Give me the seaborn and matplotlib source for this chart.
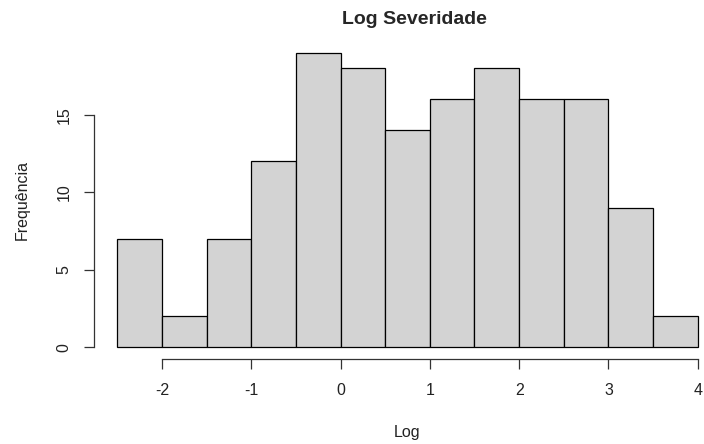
import matplotlib
matplotlib.use('Agg')
import matplotlib.pyplot as plt
import seaborn as sns

# histogram of log severity (bin edges and counts)
bin_edges = [-2.5, -2.0, -1.5, -1.0, -0.5, 0.0, 0.5, 1.0, 1.5, 2.0, 2.5, 3.0, 3.5, 4.0]
counts = [7, 2, 7, 12, 19, 18, 14, 16, 18, 16, 16, 9, 2]
x_ticks = [-2, -1, 0, 1, 2, 3, 4]
y_ticks = [0, 5, 10, 15]

centers = [(a + b) / 2 for a, b in zip(bin_edges[:-1], bin_edges[1:])]

sns.set_style('white')
plt.rcParams['font.family'] = ['Liberation Sans', 'DejaVu Sans']
plt.rcParams['axes.unicode_minus'] = False

W, H = 704, 444
fig = plt.figure(figsize=(W / 100, H / 100), dpi=100)
# axes placed in pixel terms, R-style 4% padding around the data range
left, right, top, bottom = 94, 721, 41, 359
ax = fig.add_axes([left / W, 1 - bottom / H, (right - left) / W, (bottom - top) / H])

sns.histplot(x=centers, weights=counts, bins=bin_edges, ax=ax,
             color='#D3D3D3', edgecolor='black', linewidth=0.9, alpha=1)

xr = bin_edges[-1] - bin_edges[0]
ax.set_xlim(bin_edges[0] - 0.04 * xr, bin_edges[-1] + 0.04 * xr)
yr = max(counts)
ax.set_ylim(-0.04 * yr, yr * 1.04)

ax.set_xticks(x_ticks)
ax.set_yticks(y_ticks)
ax.set_yticklabels([str(v) for v in y_ticks], rotation=90, va='center')

for s in ['top', 'right']:
    ax.spines[s].set_visible(False)
ax.spines['bottom'].set_bounds(x_ticks[0], x_ticks[-1])
ax.spines['left'].set_bounds(y_ticks[0], y_ticks[-1])
for s in ['bottom', 'left']:
    ax.spines[s].set_color('#333333')
    ax.spines[s].set_linewidth(0.9)

ax.tick_params(axis='both', bottom=True, left=True, length=7, width=0.9,
               color='#333333', labelsize=11.5, labelcolor='#222222',
               pad=10, direction='out')
ax.tick_params(axis='y', pad=9)

# title and axis labels where the reference puts them
fig.text(414 / W, 1 - 20 / H, 'Log Severidade', ha='center', va='center',
         fontsize=14, fontweight='bold')
ax.set_xlabel('Log', fontsize=11.5, color='#222222')
ax.set_ylabel('Frequência', fontsize=11.5, color='#222222')
ax.xaxis.set_label_coords((407 - left) / (right - left), -(433 - bottom) / (bottom - top))
ax.xaxis.label.set_va('center')
ax.yaxis.set_label_coords(-(left - 22) / (right - left), (bottom - 200) / (bottom - top))
ax.yaxis.label.set_va('center')

fig.savefig('out.png', dpi=100)
